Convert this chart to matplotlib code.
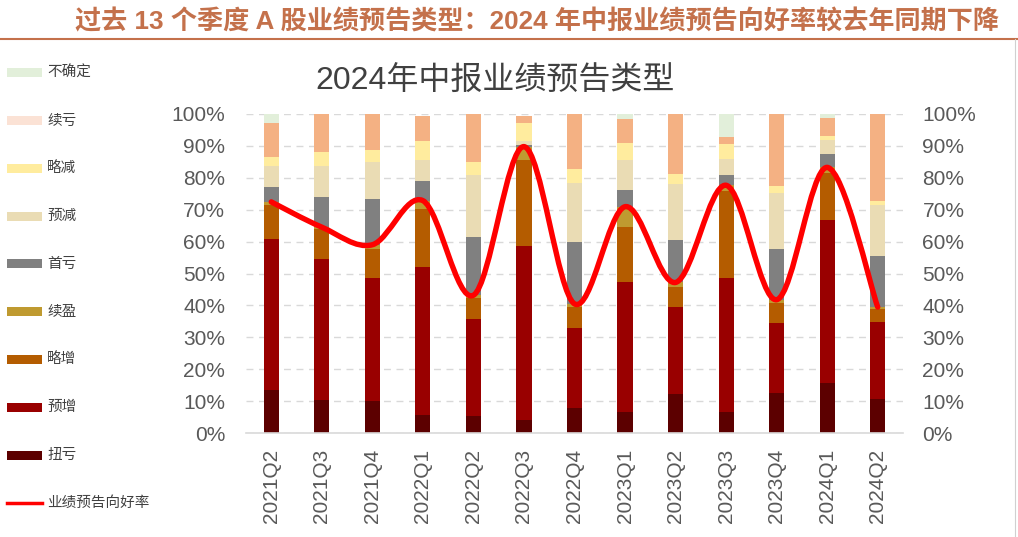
import matplotlib
matplotlib.use("Agg")
import matplotlib.pyplot as plt
from matplotlib.patches import Rectangle, PathPatch
from matplotlib.path import Path
from matplotlib.lines import Line2D
import numpy as np

plt.rcParams['font.family'] = ['Liberation Sans', 'Noto Sans CJK SC', 'DejaVu Sans']

# ---------------- data ----------------
quarters = ["2021Q2", "2021Q3", "2021Q4", "2022Q1", "2022Q2", "2022Q3", "2022Q4",
            "2023Q1", "2023Q2", "2023Q3", "2023Q4", "2024Q1", "2024Q2"]

niukui   = [13.6, 10.3, 10.1, 5.7, 5.5, 4.2, 7.8, 6.8, 12.4, 6.8, 12.5, 15.6, 10.6]   # 扭亏
yuzeng   = [47.1, 44.2, 38.4, 46.4, 30.4, 54.4, 25.3, 40.6, 27.2, 41.9, 22.1, 51.1, 24.3]  # 预增
luezeng  = [10.6, 9.3, 9.3, 18.0, 6.5, 26.9, 6.3, 17.1, 6.3, 27.1, 6.1, 14.8, 3.9]   # 略增
xuying   = [1.1, 0.7, 1.2, 2.7, 0.8, 4.2, 1.1, 6.4, 1.3, 1.8, 1.1, 1.7, 0.7]        # 续盈
shoukui  = [4.8, 9.5, 14.4, 6.2, 18.1, 0.5, 19.3, 5.2, 13.3, 3.2, 15.9, 4.1, 16.1]   # 首亏
yujian   = [6.5, 9.7, 11.6, 6.5, 19.5, 1.3, 18.6, 9.4, 17.5, 4.9, 17.4, 4.5, 15.8]   # 预减
luejian  = [2.6, 4.3, 3.6, 6.0, 4.2, 5.5, 4.3, 5.2, 3.0, 4.7, 2.4, 1.3, 1.4]        # 略减
xukui    = [10.9, 12.0, 11.4, 7.9, 15.0, 2.3, 17.3, 7.6, 19.0, 2.4, 22.5, 5.4, 27.2]  # 续亏
buqueding = [2.8, 0.0, 0.0, 0.0, 0.0, 0.0, 0.0, 1.7, 0.0, 7.2, 0.0, 1.5, 0.0]       # 不确定
good_rate = [72.4, 64.5, 59.0, 72.8, 43.2, 89.7, 40.5, 70.9, 47.2, 77.6, 41.8, 83.2, 39.5]  # 业绩预告向好率

yticks = [0, 10, 20, 30, 40, 50, 60, 70, 80, 90, 100]

series = [
    ("扭亏", niukui, "#5C0000", "#5C0000"),
    ("预增", yuzeng, "#990000", "#990000"),
    ("略增", luezeng, "#B45C00", "#B45C00"),
    ("续盈", xuying, "#BF9A30", "#BF9A30"),
    ("首亏", shoukui, "#808080", "#808080"),
    ("预减", yujian, "#EADCB4", "#EADCB4"),
    ("略减", luejian, "#FFEC9E", "#FFEC9E"),
    ("续亏", xukui, "#F4B183", "#FBE2D5"),
    ("不确定", buqueding, "#E2EFDA", "#E2EFDA"),
]

W, H = 1018, 537
fig = plt.figure(figsize=(W / 100, H / 100), dpi=100)
fig.patch.set_facecolor("white")

# axes placement in pixels
ax_l, ax_r, ax_t, ax_b = 246, 903, 113.7, 433.3
ax = fig.add_axes([ax_l / W, 1 - ax_b / H, (ax_r - ax_l) / W, (ax_b - ax_t) / H])

x = np.arange(len(quarters))
bottom = np.zeros(len(quarters))
for name, vals, col, _ in series:
    v = np.array(vals)
    ax.bar(x, v, width=0.3, bottom=bottom, color=col, linewidth=0, zorder=2)
    bottom += v

# smoothed line (Catmull-Rom style Bezier, like Excel smoothing)
pts = np.column_stack([x, good_rate]).astype(float)
verts = [tuple(pts[0])]
codes = [Path.MOVETO]
n = len(pts)
for i in range(n - 1):
    p0 = pts[i - 1] if i > 0 else pts[i]
    p1 = pts[i]
    p2 = pts[i + 1]
    p3 = pts[i + 2] if i + 2 < n else pts[i + 1]
    c1 = p1 + (p2 - p0) / 6.0
    c2 = p2 - (p3 - p1) / 6.0
    verts += [tuple(c1), tuple(c2), tuple(p2)]
    codes += [Path.CURVE4] * 3
path = Path(verts, codes)
ax.add_patch(PathPatch(path, fill=False, edgecolor="#FF0000", linewidth=3.9,
                       capstyle="round", joinstyle="round", zorder=3))

ax.set_xlim(-0.5, len(quarters) - 0.5)
ax.set_ylim(0, 100)
ax.set_yticks(yticks)
ax.set_yticklabels([f"{t}%" for t in yticks])
ax.set_xticks(x)
ax.set_xticklabels(quarters, rotation=90)
ax.tick_params(axis="both", length=0, labelsize=15, colors="#595959")
ax.tick_params(axis="y", pad=15)
ax.tick_params(axis="x", pad=11)
ax.yaxis.grid(True, linestyle=(0, (5, 4)), color="#D9D9D9", linewidth=1, zorder=0)
ax.set_axisbelow(True)
for s in ["top", "left", "right"]:
    ax.spines[s].set_visible(False)
ax.spines["bottom"].set_color("#D9D9D9")
ax.spines["bottom"].set_linewidth(1.2)

ax2 = ax.twinx()
ax2.set_ylim(0, 100)
ax2.set_yticks(yticks)
ax2.set_yticklabels([f"{t}%" for t in yticks])
ax2.tick_params(axis="y", length=0, labelsize=15, colors="#595959", pad=14)
for s in ax2.spines.values():
    s.set_visible(False)

# chart title
fig.text(495 / W, 1 - 82 / H, "2024年中报业绩预告类型", ha="center", va="center",
         fontsize=23, color="#404040",
         family=["Liberation Sans", "Noto Sans CJK SC", "DejaVu Sans"])

# page title and rule
fig.text(75 / W, 1 - 22 / H,
         "过去 13 个季度 A 股业绩预告类型：2024 年中报业绩预告向好率较去年同期下降",
         ha="left", va="center", fontsize=18.8, fontweight="bold", color="#C4714B",
         family=["Liberation Sans", "Noto Sans CJK SC", "DejaVu Sans"])
fig.add_artist(Line2D([0, 1], [1 - 39 / H, 1 - 39 / H], transform=fig.transFigure,
                      color="#C4714B", linewidth=1.5))
fig.add_artist(Line2D([1015 / W, 1015 / W], [0, 1 - 39 / H], transform=fig.transFigure,
                      color="#D0D0D0", linewidth=0.8))

# legend (manual, left column)
legend_items = [(s[0], s[3]) for s in series[::-1]]
ys = [72.7 + 47.8 * i for i in range(10)]
for (name, col), yy in zip(legend_items, ys[:9]):
    fig.patches.append(Rectangle((7 / W, 1 - (yy + 4.5) / H), 35 / W, 9 / H,
                                 transform=fig.transFigure, facecolor=col,
                                 edgecolor="none"))
    fig.text(47 / W, 1 - yy / H, name, ha="left", va="center", fontsize=10.5,
             color="#404040", family=["Noto Sans CJK SC", "DejaVu Sans"])
yy = ys[9]
fig.add_artist(Line2D([7 / W, 42 / W], [1 - yy / H, 1 - yy / H], transform=fig.transFigure,
                      color="#FF0000", linewidth=2.5))
fig.text(47 / W, 1 - yy / H, "业绩预告向好率", ha="left", va="center", fontsize=10.5,
         color="#404040", family=["Noto Sans CJK SC", "DejaVu Sans"])

fig.savefig("out.png", dpi=100, facecolor="white")
